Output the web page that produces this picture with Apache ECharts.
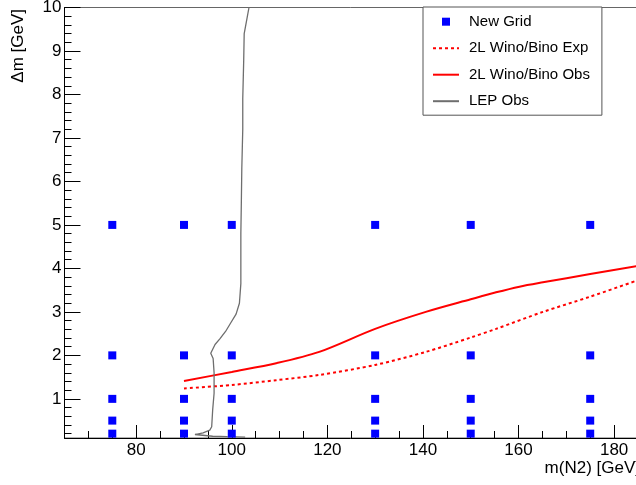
<!DOCTYPE html>
<html>
<head>
<meta charset="utf-8">
<script src="https://cdn.jsdelivr.net/npm/echarts@6/dist/echarts.min.js"></script>
<style>
  html, body { margin: 0; padding: 0; background: #ffffff; }
  #chart { width: 636px; height: 485px; }
</style>
</head>
<body>
<div id="chart"></div>
<script>
// Signal grid points: every mass paired with every mass splitting
const gridMass = [75, 90, 100, 130, 150, 175];
const gridDm = [5, 2, 1, 0.5, 0.2];

// 2L Wino/Bino expected limit
const expMass = [90, 100, 109.3, 118.3, 130, 140.6, 150, 155.3, 165.1, 175, 185];
const expDm = [1.24, 1.32, 1.43, 1.55, 1.78, 2.08, 2.41, 2.61, 3.0, 3.35, 3.73];

// 2L Wino/Bino observed limit
const obsMass = [90, 100, 109.3, 118.3, 130, 140.6, 150, 155.3, 160.2, 165.1, 175, 185];
const obsDm = [1.41, 1.62, 1.82, 2.08, 2.61, 3.0, 3.29, 3.45, 3.58, 3.68, 3.87, 4.06];

const lepMass = [103.6, 103.1, 102.6, 102.5, 102.3, 102.3, 102.1, 102.0, 101.9, 101.9, 101.9,
                 101.6, 100.9, 99.8, 98.7, 97.5, 96.5, 95.6, 96.1, 96.3, 96.3, 96.0, 95.8,
                 95.4, 94.0, 92.3, 92.5, 96.0, 99.0, 102.8];
const lepDm = [10.0, 9.7, 9.4, 8.8, 7.9, 7.2, 6.3, 5.5, 4.8, 4.2, 3.65,
               3.2, 2.95, 2.75, 2.55, 2.38, 2.25, 2.05, 1.93, 1.6, 1.13, 0.74, 0.36,
               0.28, 0.22, 0.18, 0.14, 0.14, 0.13, 0.12];

// Axis ticks and labels
const xMajorTicks = [80, 100, 120, 140, 160, 180];
const xMinorTicks = [65, 70, 75, 85, 90, 95, 105, 110, 115, 125, 130, 135, 145, 150, 155, 165, 170, 175, 185];
const yMajorTicks = [1, 2, 3, 4, 5, 6, 7, 8, 9, 10];
const yMinorTicks = [];
for (let i = 1; i < 50; i++) {
  const v = +(i * 0.2).toFixed(1);
  if (Math.abs(v - Math.round(v)) > 1e-6) yMinorTicks.push(v);
}

const xTitle = 'm(N2) [GeV]';
const yTitle = 'Δm [GeV]';
const seriesNames = ['New Grid', '2L Wino/Bino Exp', '2L Wino/Bino Obs', 'LEP Obs'];

const FONT = "'Liberation Sans', Arial, Helvetica, sans-serif";

const zip = (xs, ys) => xs.map((x, i) => [x, ys[i]]);
const gridPoints = [];
gridMass.forEach(m => gridDm.forEach(d => gridPoints.push([m, d])));

const xRange = { min: 65, max: 185 };
const yRange = { min: 0.1, max: 10 };

const chart = echarts.init(document.getElementById('chart'), null, { renderer: 'canvas' });

// line entries in the legend show only their stroke, no marker
const lineLegendItem = name => ({ name: name, itemStyle: { opacity: 0 } });

chart.setOption({
  animation: false,
  backgroundColor: '#ffffff',
  grid: {
    left: 64.5, top: 7.5, right: -2, bottom: 47,
    show: true, borderColor: '#666666', borderWidth: 1,
    containLabel: false, outerBoundsMode: 'none'
  },
  legend: {
    orient: 'vertical',
    left: 423, top: 7,
    padding: [6.7, 12, 6, 9],
    itemWidth: 26, itemHeight: 14, itemGap: 10.5,
    backgroundColor: '#ffffff',
    borderColor: '#555555', borderWidth: 1,
    textStyle: { fontFamily: FONT, fontSize: 15, color: '#000000', lineHeight: 16, padding: [0, 0, 0, 5] },
    data: [
      { name: seriesNames[0], icon: 'path://M0,0M26,14M9,3h8v8h-8z', itemStyle: { opacity: 1 } },
      lineLegendItem(seriesNames[1]),
      lineLegendItem(seriesNames[2]),
      lineLegendItem(seriesNames[3])
    ]
  },
  xAxis: [
    {
      type: 'value', position: 'bottom', min: xRange.min, max: xRange.max,
      axisLine: { show: true, lineStyle: { color: '#000000', width: 1 } },
      axisTick: { show: true, inside: true, length: 13, customValues: xMajorTicks, lineStyle: { color: '#000000' } },
      axisLabel: { show: true, customValues: xMajorTicks, margin: 4, fontFamily: FONT, fontSize: 17, color: '#000000' },
      splitLine: { show: false }
    },
    {
      type: 'value', position: 'bottom', min: xRange.min, max: xRange.max,
      axisLine: { show: false },
      axisTick: { show: true, inside: true, length: 7, customValues: xMinorTicks, lineStyle: { color: '#000000' } },
      axisLabel: { show: false },
      splitLine: { show: false }
    }
  ],
  yAxis: [
    {
      type: 'value', position: 'left', min: yRange.min, max: yRange.max,
      axisLine: { show: true, lineStyle: { color: '#000000', width: 1 } },
      axisTick: { show: true, inside: true, length: 16, customValues: yMajorTicks, lineStyle: { color: '#000000' } },
      axisLabel: { show: true, customValues: yMajorTicks, margin: 3, fontFamily: FONT, fontSize: 17, color: '#000000' },
      splitLine: { show: false }
    },
    {
      type: 'value', position: 'left', min: yRange.min, max: yRange.max,
      axisLine: { show: false },
      axisTick: { show: true, inside: true, length: 7, customValues: yMinorTicks, lineStyle: { color: '#000000' } },
      axisLabel: { show: false },
      splitLine: { show: false }
    }
  ],
  graphic: [
    {
      type: 'text', x: 640, y: 468,
      style: { text: xTitle, fontFamily: FONT, fontSize: 17, fill: '#000000', align: 'right', verticalAlign: 'middle' }
    },
    {
      type: 'text', x: 18, y: 9, rotation: Math.PI / 2,
      style: { text: yTitle, fontFamily: FONT, fontSize: 17, fill: '#000000', align: 'right', verticalAlign: 'middle' }
    }
  ],
  series: [
    {
      name: seriesNames[0], type: 'scatter', xAxisIndex: 0, yAxisIndex: 0,
      symbol: 'rect', symbolSize: 8,
      itemStyle: { color: '#0000ff', opacity: 1 },
      data: gridPoints, z: 5
    },
    {
      name: seriesNames[1], type: 'line', xAxisIndex: 0, yAxisIndex: 0,
      symbol: 'none', smooth: 0.3,
      lineStyle: { color: '#ff0000', width: 2, type: [3, 3] },
      itemStyle: { color: '#ff0000' },
      data: zip(expMass, expDm), z: 3
    },
    {
      name: seriesNames[2], type: 'line', xAxisIndex: 0, yAxisIndex: 0,
      symbol: 'none', smooth: 0.3,
      lineStyle: { color: '#ff0000', width: 2 },
      itemStyle: { color: '#ff0000' },
      data: zip(obsMass, obsDm), z: 3
    },
    {
      name: seriesNames[3], type: 'line', xAxisIndex: 0, yAxisIndex: 0,
      symbol: 'none', smooth: false,
      lineStyle: { color: '#6e6e6e', width: 1.3 },
      itemStyle: { color: '#6e6e6e' },
      data: zip(lepMass, lepDm), z: 4
    }
  ]
});
</script>
</body>
</html>
